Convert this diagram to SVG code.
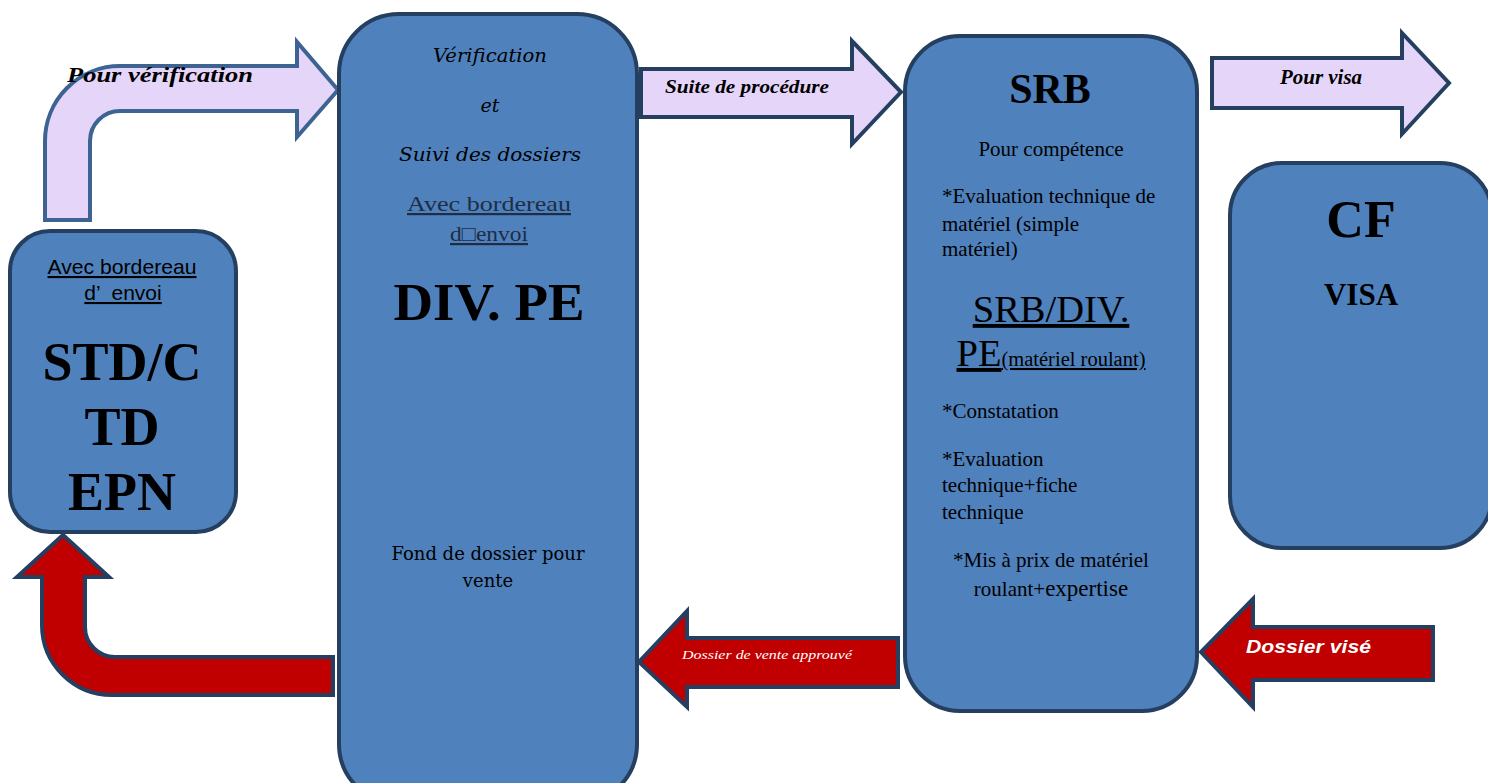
<svg xmlns="http://www.w3.org/2000/svg" width="1488" height="783" viewBox="0 0 1488 783">
<style>
.node{fill:#4f81bd;stroke:#243f60;stroke-width:4}
.lav{fill:#e5d5f8;stroke:#243f60;stroke-width:4;stroke-linejoin:miter}
.red{fill:#c00000;stroke:#243f60;stroke-width:4;stroke-linejoin:miter}
.ser{font-family:"Liberation Serif",serif;fill:#000}
.b{font-weight:bold}
.i{font-style:italic}
.san{font-family:"Liberation Sans",Arial,sans-serif;fill:#000}
.dj{font-family:"DejaVu Serif",serif;fill:#000}
.u{text-decoration:underline}
.m{text-anchor:middle}
</style>
<rect width="1488" height="783" fill="#fff"/>
<g id="connectors">
<path class="lav" style="stroke:#3d6392" d="M45,220 L45,141 A75,75 0 0 1 120,66 L297,66 L297,42 L338,90 L297,137 L297,111 L120,111 A30,30 0 0 0 90,141 L90,220 Z"/>
<text class="ser b i" x="67" y="82" font-size="22" textLength="186" lengthAdjust="spacingAndGlyphs">Pour vérification</text>
<path class="lav" d="M641,69 L852,69 L852,41 L901,92 L852,144 L852,117 L641,117 Z"/>
<text class="ser b i" x="665" y="93" font-size="18.5" textLength="164" lengthAdjust="spacingAndGlyphs">Suite de procédure</text>
<path class="lav" d="M1212,58 L1402,58 L1402,33 L1449,83 L1402,134 L1402,108 L1212,108 Z"/>
<text class="ser b i" x="1280" y="84" font-size="20" textLength="82" lengthAdjust="spacingAndGlyphs">Pour visa</text>
<path class="red" d="M898,638 L687,638 L687,611 L639,662 L687,707 L687,687 L898,687 Z"/>
<text class="ser i" x="682" y="659" font-size="13" style="fill:#fff" textLength="170" lengthAdjust="spacingAndGlyphs">Dossier de vente approuvé</text>
<path class="red" d="M1433,627 L1253,627 L1253,599 L1201,652 L1253,707 L1253,680 L1433,680 Z"/>
<text class="san b i" x="1246" y="653" font-size="19" style="fill:#fff" textLength="125" lengthAdjust="spacingAndGlyphs">Dossier visé</text>
<path class="red" d="M63,535 L17,577 L42,577 L42,625 A70,70 0 0 0 112,695 L333,695 L333,657 L115,657 A30,30 0 0 1 85,627 L85,577 L109,577 Z"/>
</g>
<g id="node-std">
<rect class="node" x="10" y="231" width="226" height="301" rx="40"/>
<text class="san u m" x="122" y="274" font-size="21" textLength="149" lengthAdjust="spacingAndGlyphs">Avec bordereau</text>
<text class="san u m" x="123" y="300" font-size="21" xml:space="preserve">d’  envoi</text>
<text class="ser b m" x="122" y="380" font-size="54">STD/C</text>
<text class="ser b m" x="122" y="445" font-size="54">TD</text>
<text class="ser b m" x="122" y="510" font-size="54">EPN</text>
</g>
<g id="node-divpe">
<rect class="node" x="339" y="14" width="298" height="790" rx="60"/>
<text class="dj i m" x="490" y="62" font-size="19" textLength="114" lengthAdjust="spacingAndGlyphs">Vérification</text>
<text class="dj i m" x="490" y="112" font-size="19">et</text>
<text class="dj i m" x="490" y="161" font-size="19" textLength="182" lengthAdjust="spacingAndGlyphs">Suivi des dossiers</text>
<text class="ser u m" x="489" y="211" font-size="22" style="fill:#1f2d44" textLength="164" lengthAdjust="spacingAndGlyphs">Avec bordereau</text>
<text class="ser u m" x="489" y="241" font-size="22" style="fill:#1f2d44" textLength="78" lengthAdjust="spacingAndGlyphs">d□envoi</text>
<text class="ser b m" x="489" y="320" font-size="52" textLength="191" lengthAdjust="spacingAndGlyphs">DIV. PE</text>
<text class="dj m" x="488" y="560" font-size="18" textLength="193" lengthAdjust="spacingAndGlyphs">Fond de dossier pour</text>
<text class="dj m" x="488" y="587" font-size="18">vente</text>
</g>
<g id="node-srb">
<rect class="node" x="905" y="36" width="292" height="675" rx="55"/>
<text class="ser b m" x="1050" y="103" font-size="42">SRB</text>
<text class="ser m" x="1051" y="156" font-size="21">Pour compétence</text>
<text class="ser" x="942" y="203" font-size="21">*Evaluation technique de</text>
<text class="ser" x="942" y="231" font-size="21">matériel (simple</text>
<text class="ser" x="942" y="256" font-size="21">matériel)</text>
<text class="ser u m" x="1051" y="322" font-size="38.5">SRB/DIV.</text>
<text class="ser u m" x="1051" y="366" font-size="38.5">PE<tspan font-size="20.5">(matériel roulant)</tspan></text>
<text class="ser" x="942" y="418" font-size="21">*Constatation</text>
<text class="ser" x="942" y="466" font-size="21">*Evaluation</text>
<text class="ser" x="942" y="492" font-size="21">technique+fiche</text>
<text class="ser" x="942" y="519" font-size="21">technique</text>
<text class="ser m" x="1051" y="567" font-size="21">*Mis à prix de matériel</text>
<text class="ser m" x="1051" y="596" font-size="21">roulant+<tspan font-size="23">expertise</tspan></text>
</g>
<g id="node-cf">
<rect class="node" x="1230" y="163" width="262" height="385" rx="52"/>
<text class="ser b m" x="1361" y="237" font-size="52">CF</text>
<text class="ser b m" x="1361" y="305" font-size="31">VISA</text>
</g>
</svg>
